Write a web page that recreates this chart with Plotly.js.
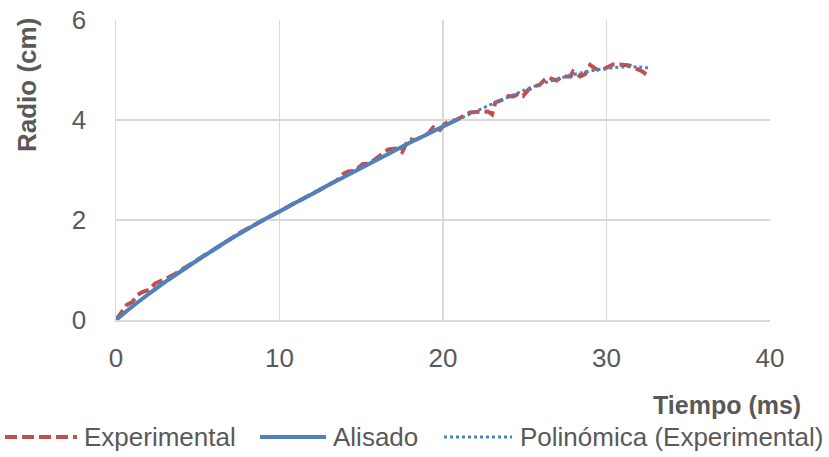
<!DOCTYPE html>
<html><head><meta charset="utf-8">
<script src="https://cdn.plot.ly/plotly-3.0.1.min.js"></script>
<style>html,body{margin:0;padding:0;background:#fff}#chart{width:829px;height:457px}</style>
</head><body><div id="chart"></div>
<script>
// Experimental
const expT = [0,0.3,0.65,1.0,1.3,1.6,2.0,2.4,2.8,3.2,3.6,4.0,4.5,5.0,5.5,6.0,6.5,7.0,7.5,8.0,8.5,9.0,9.5,10.0,10.5,11.0,11.5,12.0,12.5,13.0,13.5,13.9,14.2,14.6,15.1,15.5,16.0,16.45,16.65,17.2,17.5,17.9,18.3,18.7,19.1,19.4,19.8,20.1,20.4,20.8,21.25,21.65,22.0,22.3,22.75,23.0,23.2,23.6,24.0,24.3,24.6,24.9,25.2,25.5,25.9,26.2,26.4,26.95,27.3,27.6,27.8,27.95,28.4,28.7,29.0,29.3,29.6,29.9,30.4,30.8,31.1,31.4,31.8,32.2,32.55];
const expR = [0,0.13,0.3,0.36,0.5,0.56,0.6,0.73,0.78,0.85,0.92,1.0,1.1,1.2,1.31,1.42,1.51,1.62,1.73,1.82,1.9,2.0,2.09,2.17,2.27,2.35,2.44,2.52,2.62,2.7,2.79,2.92,2.97,2.98,3.12,3.13,3.25,3.37,3.41,3.43,3.36,3.62,3.6,3.66,3.73,3.85,3.8,3.92,3.97,4.0,4.07,4.15,4.16,4.17,4.17,4.11,4.35,4.4,4.48,4.47,4.52,4.48,4.6,4.67,4.7,4.8,4.85,4.79,4.87,4.87,4.87,4.97,4.87,4.92,5.1,5.03,4.99,5.03,5.11,5.11,5.1,5.09,5.03,4.97,4.88];
// Alisado (smoothed)
const smoT = [0,1,2,3,4,5,6,7,8,9,10,11,12,13,14,15,16,17,18,19,20,20.9];
const smoR = [0,0.27,0.52,0.76,0.98,1.2,1.41,1.62,1.81,2.0,2.17,2.35,2.52,2.7,2.87,3.04,3.21,3.38,3.55,3.71,3.87,4.01];
// Polinómica (Experimental)
const polT = [0,1,2,3,4,5,6,7,8,9,10,11,12,13,14,15,16,17,18,19,20,21,22,23,24,25,26,27,28,29,30,31,32,32.7];
const polR = [0,0.27,0.52,0.76,0.98,1.2,1.41,1.62,1.81,2.0,2.17,2.35,2.52,2.7,2.87,3.04,3.21,3.38,3.55,3.71,3.87,4.02,4.17,4.32,4.46,4.6,4.72,4.82,4.91,4.98,5.03,5.06,5.06,5.04];
const xTicks = [0,10,20,30,40];
const yTicks = [0,2,4,6];
const seriesNames = ['Experimental', 'Alisado', 'Polinómica (Experimental)'];

const FONT = '"Liberation Sans",Arial,sans-serif';
const TXT = '#595959';
const RED = '#C0504D', BLUE = '#4F81BD';
const styles = [
  {color: RED, width: 4, dash: '12px,5px'},
  {color: BLUE, width: 4, dash: 'solid'},
  {color: BLUE, width: 3, dash: 'dot'}
];

const traces = [
  {x: expT, y: expR, name: seriesNames[0], mode: 'lines', line: styles[0]},
  {x: smoT, y: smoR, name: seriesNames[1], mode: 'lines', line: Object.assign({shape: 'spline'}, styles[1])},
  {x: polT, y: polR, name: seriesNames[2], mode: 'lines', line: Object.assign({shape: 'spline'}, styles[2])}
];

// plot area in pixels
const L = 116, R = 770, T = 20, B = 320;
const px = v => (v - L) / (R - L);
const py = v => (B - v) / (B - T);

// custom legend (wide line samples as in the reference)
const legY = 437;
const legItems = [
  {x0: 5, x1: 77, tx: 82},
  {x0: 260, x1: 326, tx: 331},
  {x0: 444, x1: 512, tx: 518}
];
const shapes = legItems.map((it, i) => ({
  type: 'line', xref: 'paper', yref: 'paper', x0: px(it.x0), x1: px(it.x1), y0: py(legY), y1: py(legY),
  line: styles[i]
}));
const legAnn = legItems.map((it, i) => ({
  text: seriesNames[i], xref: 'paper', yref: 'paper', x: px(it.tx), y: py(legY), xanchor: 'left', yanchor: 'middle',
  showarrow: false, font: {family: FONT, size: 26, color: TXT}
}));

const layout = {
  width: 829, height: 457,
  margin: {l: L, r: 829 - R, t: T, b: 457 - B},
  paper_bgcolor: '#fff', plot_bgcolor: '#fff',
  font: {family: FONT, size: 26, color: TXT},
  showlegend: false,
  xaxis: {range: [0, 40], tickvals: xTicks, ticktext: xTicks.map(String), showgrid: true, gridcolor: '#d9d9d9', gridwidth: 1.5,
          zeroline: false, showline: true, linecolor: '#d9d9d9', linewidth: 1.5, ticks: '', ticklabelstandoff: 14,
          tickfont: {family: FONT, size: 26, color: TXT}, fixedrange: true},
  yaxis: {range: [0, 6], tickvals: yTicks, ticktext: yTicks.map(String), showgrid: true, gridcolor: '#d9d9d9', gridwidth: 1.5,
          zeroline: false, showline: true, linecolor: '#d9d9d9', linewidth: 1.5, ticks: '', ticklabelstandoff: 23,
          tickfont: {family: FONT, size: 26, color: TXT}, fixedrange: true},
  shapes: shapes,
  annotations: [
    {text: '<b>Tiempo (ms)</b>', xref: 'paper', yref: 'paper', x: px(803), y: py(405), xanchor: 'right', yanchor: 'middle',
     showarrow: false, font: {family: FONT, size: 25, color: TXT}},
    {text: '<b>Radio (cm)</b>', xref: 'paper', yref: 'paper', x: px(27), y: py(85), xanchor: 'center', yanchor: 'middle',
     textangle: -90, showarrow: false, font: {family: FONT, size: 26, color: TXT}}
  ].concat(legAnn)
};
Plotly.newPlot('chart', traces, layout, {displayModeBar: false, staticPlot: true});
</script></body></html>
